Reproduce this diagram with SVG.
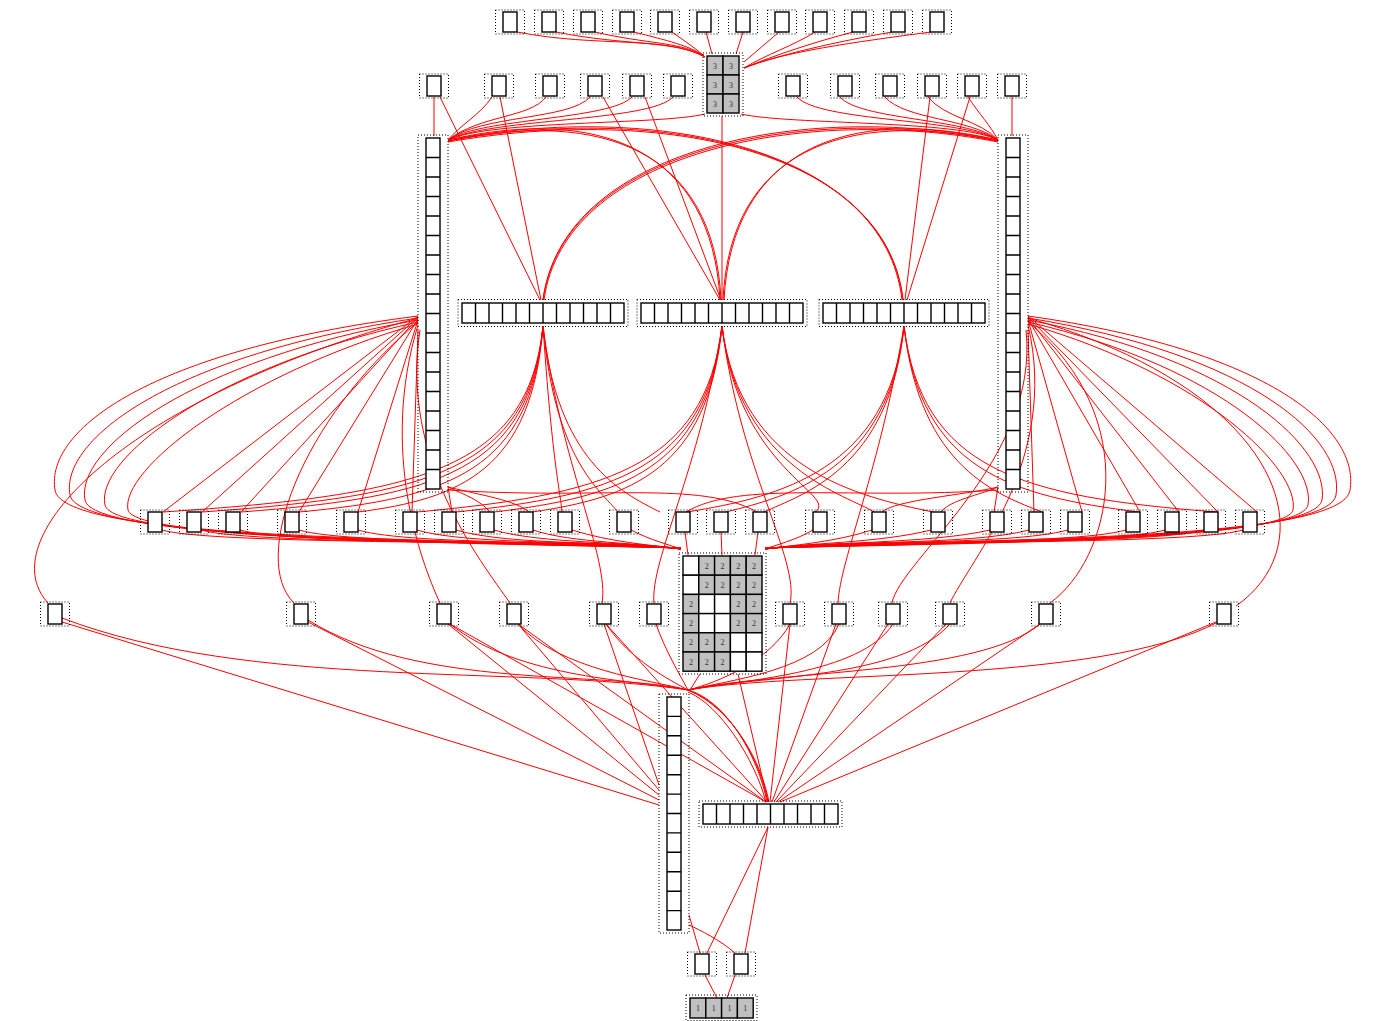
<svg xmlns="http://www.w3.org/2000/svg" xmlns:xlink="http://www.w3.org/1999/xlink" width="1378" height="1021" viewBox="0 0 1378 1021">
<style>
.d{fill:none;stroke:#000;stroke-width:1;stroke-dasharray:1,2}
.b{fill:#fff;stroke:#000;stroke-width:1.4}
.g{fill:#c0c0c0;stroke:#000;stroke-width:1.4}
.w{fill:#fff;stroke:#000;stroke-width:1.4}
.cl{fill:none;stroke:#000;stroke-width:1.4}
.t{font-family:"Liberation Serif",serif;font-size:8px;fill:#333;text-anchor:middle}
.e path{fill:none;stroke:#f00;stroke-width:1}
</style>
<defs>
<g id="sn"><rect class="d" x="-14.5" y="-12" width="29" height="24"/><rect class="b" x="-7" y="-10" width="14" height="20"/></g>
<g id="bar"><rect class="d" x="-4" y="-3.5" width="170" height="27"/><rect class="b" x="0" y="0" width="162" height="20"/><path class="cl" d="M13.5,0v20M27,0v20M40.5,0v20M54,0v20M67.5,0v20M81,0v20M94.5,0v20M108,0v20M121.5,0v20M135,0v20M148.5,0v20"/></g>
<g id="col"><rect class="d" x="-8" y="-3" width="30" height="357"/><rect class="b" x="0" y="0" width="14" height="351"/><path class="cl" d="M0,19.5h14M0,39h14M0,58.5h14M0,78h14M0,97.5h14M0,117h14M0,136.5h14M0,156h14M0,175.5h14M0,195h14M0,214.5h14M0,234h14M0,253.5h14M0,273h14M0,292.5h14M0,312h14M0,331.5h14"/></g>
</defs>
<rect x="0" y="0" width="1378" height="1021" fill="#fff"/>
<g id="edges" class="e">
<!-- top row to grid -->
<path d="M517,32 C600,48 665,35 705,57"/>
<path d="M556,32 C625,46 675,40 705,57"/>
<path d="M595,32 C645,44 685,42 705,57"/>
<path d="M634,32 C665,40 692,46 705,57"/>
<path d="M672,32 C686,42 698,50 705,57"/>
<path d="M706,32 L712,54"/>
<path d="M743,32 L736,54"/>
<path d="M779,32 L744,62"/>
<path d="M815,32 C795,45 765,55 744,68"/>
<path d="M853,32 C815,42 775,55 744,68"/>
<path d="M892,32 C835,42 778,55 744,68"/>
<path d="M931,32 C855,42 782,52 744,68"/>
<!-- row2 -->
<path d="M434,97 L434,136"/>
<path d="M440,97 L540,300"/>
<path d="M500,97 L541,300"/>
<path d="M492,97 C480,115 460,125 448,140"/>
<path d="M546,97 C530,118 480,115 448,140"/>
<path d="M590,97 C570,120 480,115 448,140"/>
<path d="M632,97 C610,120 480,118 448,140"/>
<path d="M673,97 C650,122 490,118 448,140"/>
<path d="M705,114 C660,125 490,120 448,140"/>
<path d="M603,97 L720,300"/>
<path d="M645,97 L721,300"/>
<path d="M722,116 L722,300"/>
<path d="M741,114 C790,125 960,120 998,140"/>
<path d="M797,97 C820,122 960,118 998,140"/>
<path d="M840,97 C860,120 965,118 998,140"/>
<path d="M885,97 C905,120 970,118 998,140"/>
<path d="M928,97 C945,118 980,120 998,140"/>
<path d="M968,97 C980,115 990,125 998,140"/>
<path d="M1012,97 L1012,136"/>
<path d="M930,97 L905,300"/>
<path d="M970,97 L907,300"/>
<!-- arches -->
<path d="M448,140 C600,105 712,150 720,300"/>
<path d="M448,141 C605,108 714,152 721,300"/>
<path d="M448,140 C660,100 885,150 902,300"/>
<path d="M448,142 C665,104 887,152 903,300"/>
<path d="M448,141 C662,102 886,151 903,300"/>
<path d="M998,140 C800,100 562,150 543,300"/>
<path d="M998,142 C805,104 564,152 544,300"/>
<path d="M998,141 C802,102 563,151 543,300"/>
<path d="M998,140 C846,105 732,150 724,300"/>
<path d="M998,141 C842,108 730,152 723,300"/>
<!-- left column fan -->
<path d="M418,316 L163,512"/>
<path d="M418,317 L202,512"/>
<path d="M418,318 L241,512"/>
<path d="M418,319 L299,512"/>
<path d="M418,320 L358,512"/>
<path d="M418,330 L412,512"/>
<path d="M418,316 C150,350 45,430 55,490 C62,540 420,538 681,548"/>
<path d="M418,318 C170,355 60,440 70,495 C78,540 430,540 681,548"/>
<path d="M418,320 C190,360 75,450 85,500 C92,540 440,541 681,548"/>
<path d="M418,322 C210,368 95,460 105,505 C112,540 450,542 681,548"/>
<path d="M418,324 C240,375 120,470 128,510 C135,540 460,543 681,548"/>
<path d="M418,318 C120,400 -10,540 48,603"/>
<path d="M418,322 C300,420 250,560 294,603"/>
<path d="M418,325 C380,450 420,560 440,603"/>
<path d="M420,330 C400,460 480,560 510,603"/>
<!-- right column fan -->
<path d="M1028,330 L1034,512"/>
<path d="M1028,320 L1082,512"/>
<path d="M1028,319 L1140,512"/>
<path d="M1028,318 L1179,512"/>
<path d="M1028,317 L1218,512"/>
<path d="M1028,316 L1257,512"/>
<path d="M1028,316 C1270,350 1360,430 1350,490 C1343,540 1020,538 765,548"/>
<path d="M1028,318 C1255,355 1345,440 1336,495 C1329,540 1012,540 765,548"/>
<path d="M1028,320 C1240,360 1330,450 1322,500 C1315,540 1004,541 765,548"/>
<path d="M1028,322 C1225,368 1316,460 1308,505 C1301,540 996,542 765,548"/>
<path d="M1028,324 C1205,375 1300,470 1293,510 C1287,540 986,543 765,548"/>
<path d="M1028,318 C1280,390 1330,540 1236,606"/>
<path d="M1028,322 C1146,420 1110,560 1050,603"/>
<path d="M1026,330 C1040,460 900,560 892,603"/>
<path d="M1028,325 C1060,460 970,560 950,603"/>
<!-- bars down -->
<path d="M543,326 C528,470 420,495 163,512"/>
<path d="M543,326 C529,470 430,496 202,512"/>
<path d="M543,326 C530,470 440,497 241,512"/>
<path d="M543,326 C531,470 450,498 299,512"/>
<path d="M543,326 C532,470 460,499 358,512"/>
<path d="M543,326 C552,460 560,490 562,512"/>
<path d="M543,326 C555,460 600,490 618,512"/>
<path d="M543,326 C557,460 620,492 660,512"/>
<path d="M543,326 C560,460 610,560 602,603"/>
<path d="M722,326 C705,470 600,495 417,512"/>
<path d="M722,326 C706,470 610,496 456,512"/>
<path d="M722,326 C707,470 620,497 494,512"/>
<path d="M722,326 C708,470 630,498 532,512"/>
<path d="M722,326 C738,470 840,495 815,512"/>
<path d="M722,326 C739,470 850,496 874,512"/>
<path d="M722,326 C740,470 860,497 933,512"/>
<path d="M722,326 C700,470 650,560 654,603"/>
<path d="M722,326 C740,470 800,560 790,603"/>
<path d="M904,326 C890,470 800,495 764,512"/>
<path d="M904,326 C889,470 790,496 726,512"/>
<path d="M904,326 C888,470 780,497 687,512"/>
<path d="M904,326 C920,470 1000,495 1042,512"/>
<path d="M904,326 C921,470 1010,496 1139,512"/>
<path d="M904,326 C922,470 1020,497 1217,512"/>
<path d="M904,326 C880,470 840,560 838,603"/>
<!-- column bottoms -->
<path d="M448,487 L452,512"/>
<path d="M448,487 C465,495 480,500 490,512"/>
<path d="M448,487 C480,495 515,500 529,512"/>
<path d="M448,490 C600,500 700,480 757,512"/>
<path d="M998,487 L994,512"/>
<path d="M998,487 C980,495 950,500 941,512"/>
<path d="M998,487 C965,495 895,500 882,512"/>
<path d="M998,490 C850,500 740,480 686,512"/>
<!-- row3 to grid -->
<path d="M162,530 C215,546 620,540 681,549"/>
<path d="M201,530 C254,546 620,540 681,549"/>
<path d="M240,530 C293,546 620,540 681,549"/>
<path d="M299,530 C352,546 620,540 681,549"/>
<path d="M358,530 C411,546 620,540 681,549"/>
<path d="M417,530 C470,546 620,540 681,549"/>
<path d="M456,530 C509,546 630,541 681,549"/>
<path d="M494,530 C540,544 640,542 681,549"/>
<path d="M533,530 C570,543 645,543 681,549"/>
<path d="M572,530 C610,542 650,545 681,549"/>
<path d="M631,530 C650,540 670,545 681,549"/>
<path d="M685,532 L688,555"/>
<path d="M721,532 L722,555"/>
<path d="M758,532 L755,555"/>
<path d="M813,530 C796,540 776,545 765,549"/>
<path d="M872,530 C835,542 795,545 765,549"/>
<path d="M931,530 C880,543 805,543 765,549"/>
<path d="M990,530 C930,544 815,542 765,549"/>
<path d="M1029,530 C970,546 826,540 765,549"/>
<path d="M1068,530 C1010,546 826,540 765,549"/>
<path d="M1126,530 C1070,546 826,540 765,549"/>
<path d="M1165,530 C1110,546 826,540 765,549"/>
<path d="M1204,530 C1150,546 826,540 765,549"/>
<path d="M1243,530 C1190,546 826,540 765,549"/>
<!-- row4 -->
<path d="M62,622 L659,805"/>
<path d="M308,622 L659,800"/>
<path d="M448,624 L659,795"/>
<path d="M518,624 L659,790"/>
<path d="M604,624 L659,785"/>
<path d="M62,618 C250,690 520,665 688,690"/>
<path d="M308,620 C420,690 600,670 688,690"/>
<path d="M450,624 C520,680 640,680 688,690"/>
<path d="M518,624 C560,670 650,680 688,690"/>
<path d="M606,624 C630,660 670,680 688,690"/>
<path d="M656,624 C665,650 680,675 688,690"/>
<path d="M790,624 C770,660 720,682 688,690"/>
<path d="M839,624 C820,670 730,680 688,690"/>
<path d="M893,624 C860,675 740,680 688,690"/>
<path d="M950,624 C900,680 760,675 688,690"/>
<path d="M1040,624 C980,675 780,670 688,690"/>
<path d="M1218,622 C1100,685 800,670 688,690"/>
<path d="M450,624 L766,802"/>
<path d="M518,624 L766,802"/>
<path d="M606,624 L767,802"/>
<path d="M790,624 L770,802"/>
<path d="M836,624 L772,802"/>
<path d="M888,624 L774,802"/>
<path d="M946,624 L776,802"/>
<path d="M1040,624 L778,802"/>
<path d="M1216,622 L780,802"/>
<path d="M688,690 C730,705 760,760 768,802"/>
<path d="M688,690 C735,710 762,765 769,802"/>
<path d="M688,690 C725,700 758,755 767,802"/>
<path d="M688,692 C720,705 755,760 766,802"/>
<path d="M738,674 L768,802"/>
<path d="M700,674 L690,690"/>
<!-- bottom -->
<path d="M689,915 L700,953"/>
<path d="M689,925 C700,930 720,940 735,953"/>
<path d="M768,827 L707,953"/>
<path d="M768,827 L745,953"/>
<path d="M705,975 L717,998"/>
<path d="M735,975 L727,998"/>
</g>
<!-- row 1 -->
<g id="r1n1"><use xlink:href="#sn" x="510" y="22"/></g>
<g id="r1n2"><use xlink:href="#sn" x="549" y="22"/></g>
<g id="r1n3"><use xlink:href="#sn" x="588" y="22"/></g>
<g id="r1n4"><use xlink:href="#sn" x="627" y="22"/></g>
<g id="r1n5"><use xlink:href="#sn" x="665" y="22"/></g>
<g id="r1n6"><use xlink:href="#sn" x="704" y="22"/></g>
<g id="r1n7"><use xlink:href="#sn" x="743" y="22"/></g>
<g id="r1n8"><use xlink:href="#sn" x="782" y="22"/></g>
<g id="r1n9"><use xlink:href="#sn" x="820" y="22"/></g>
<g id="r1n10"><use xlink:href="#sn" x="859" y="22"/></g>
<g id="r1n11"><use xlink:href="#sn" x="898" y="22"/></g>
<g id="r1n12"><use xlink:href="#sn" x="937" y="22"/></g>
<!-- grid 3 -->
<g id="grid3">
<rect class="d" x="703" y="53" width="40" height="63"/>
<rect class="g" x="707" y="56" width="16" height="19"/><rect class="g" x="723" y="56" width="16" height="19"/>
<rect class="g" x="707" y="75" width="16" height="19"/><rect class="g" x="723" y="75" width="16" height="19"/>
<rect class="g" x="707" y="94" width="16" height="19"/><rect class="g" x="723" y="94" width="16" height="19"/>
<text class="t" x="715" y="68.5">3</text><text class="t" x="731" y="68.5">3</text>
<text class="t" x="715" y="87.5">3</text><text class="t" x="731" y="87.5">3</text>
<text class="t" x="715" y="106.5">3</text><text class="t" x="731" y="106.5">3</text>
</g>
<!-- row 2 -->
<g id="r2n1"><use xlink:href="#sn" x="434" y="86"/></g>
<g id="r2n2"><use xlink:href="#sn" x="499" y="86"/></g>
<g id="r2n3"><use xlink:href="#sn" x="550" y="86"/></g>
<g id="r2n4"><use xlink:href="#sn" x="595" y="86"/></g>
<g id="r2n5"><use xlink:href="#sn" x="637" y="86"/></g>
<g id="r2n6"><use xlink:href="#sn" x="678" y="86"/></g>
<g id="r2n7"><use xlink:href="#sn" x="793" y="86"/></g>
<g id="r2n8"><use xlink:href="#sn" x="845" y="86"/></g>
<g id="r2n9"><use xlink:href="#sn" x="890" y="86"/></g>
<g id="r2n10"><use xlink:href="#sn" x="932" y="86"/></g>
<g id="r2n11"><use xlink:href="#sn" x="972" y="86"/></g>
<g id="r2n12"><use xlink:href="#sn" x="1012" y="86"/></g>
<!-- columns -->
<g id="colL"><use xlink:href="#col" x="426" y="138"/></g>
<g id="colR"><use xlink:href="#col" x="1006" y="138"/></g>
<!-- bars -->
<g id="bar1"><use xlink:href="#bar" x="462" y="303"/></g>
<g id="bar2"><use xlink:href="#bar" x="641" y="303"/></g>
<g id="bar3"><use xlink:href="#bar" x="823" y="303"/></g>
<!-- row 3 -->
<g id="r3n1"><use xlink:href="#sn" x="155" y="522"/></g>
<g id="r3n2"><use xlink:href="#sn" x="194" y="522"/></g>
<g id="r3n3"><use xlink:href="#sn" x="233" y="522"/></g>
<g id="r3n4"><use xlink:href="#sn" x="292" y="522"/></g>
<g id="r3n5"><use xlink:href="#sn" x="351" y="522"/></g>
<g id="r3n6"><use xlink:href="#sn" x="410" y="522"/></g>
<g id="r3n7"><use xlink:href="#sn" x="449" y="522"/></g>
<g id="r3n8"><use xlink:href="#sn" x="487" y="522"/></g>
<g id="r3n9"><use xlink:href="#sn" x="526" y="522"/></g>
<g id="r3n10"><use xlink:href="#sn" x="565" y="522"/></g>
<g id="r3n11"><use xlink:href="#sn" x="624" y="522"/></g>
<g id="r3n12"><use xlink:href="#sn" x="683" y="522"/></g>
<g id="r3n13"><use xlink:href="#sn" x="721" y="522"/></g>
<g id="r3n14"><use xlink:href="#sn" x="760" y="522"/></g>
<g id="r3n15"><use xlink:href="#sn" x="820" y="522"/></g>
<g id="r3n16"><use xlink:href="#sn" x="879" y="522"/></g>
<g id="r3n17"><use xlink:href="#sn" x="938" y="522"/></g>
<g id="r3n18"><use xlink:href="#sn" x="997" y="522"/></g>
<g id="r3n19"><use xlink:href="#sn" x="1036" y="522"/></g>
<g id="r3n20"><use xlink:href="#sn" x="1075" y="522"/></g>
<g id="r3n21"><use xlink:href="#sn" x="1133" y="522"/></g>
<g id="r3n22"><use xlink:href="#sn" x="1172" y="522"/></g>
<g id="r3n23"><use xlink:href="#sn" x="1211" y="522"/></g>
<g id="r3n24"><use xlink:href="#sn" x="1250" y="522"/></g>
<!-- grid 5x6 -->
<g id="grid2">
<rect class="d" x="679" y="553" width="87" height="121"/>
<rect class="w" x="683" y="556" width="15.8" height="19.2"/><rect class="g" x="698.8" y="556" width="15.8" height="19.2"/><rect class="g" x="714.6" y="556" width="15.8" height="19.2"/><rect class="g" x="730.4" y="556" width="15.8" height="19.2"/><rect class="g" x="746.2" y="556" width="15.8" height="19.2"/>
<rect class="w" x="683" y="575.2" width="15.8" height="19.2"/><rect class="g" x="698.8" y="575.2" width="15.8" height="19.2"/><rect class="g" x="714.6" y="575.2" width="15.8" height="19.2"/><rect class="g" x="730.4" y="575.2" width="15.8" height="19.2"/><rect class="g" x="746.2" y="575.2" width="15.8" height="19.2"/>
<rect class="g" x="683" y="594.4" width="15.8" height="19.2"/><rect class="w" x="698.8" y="594.4" width="15.8" height="19.2"/><rect class="w" x="714.6" y="594.4" width="15.8" height="19.2"/><rect class="g" x="730.4" y="594.4" width="15.8" height="19.2"/><rect class="g" x="746.2" y="594.4" width="15.8" height="19.2"/>
<rect class="g" x="683" y="613.6" width="15.8" height="19.2"/><rect class="w" x="698.8" y="613.6" width="15.8" height="19.2"/><rect class="w" x="714.6" y="613.6" width="15.8" height="19.2"/><rect class="g" x="730.4" y="613.6" width="15.8" height="19.2"/><rect class="g" x="746.2" y="613.6" width="15.8" height="19.2"/>
<rect class="g" x="683" y="632.8" width="15.8" height="19.2"/><rect class="g" x="698.8" y="632.8" width="15.8" height="19.2"/><rect class="g" x="714.6" y="632.8" width="15.8" height="19.2"/><rect class="w" x="730.4" y="632.8" width="15.8" height="19.2"/><rect class="w" x="746.2" y="632.8" width="15.8" height="19.2"/>
<rect class="g" x="683" y="652" width="15.8" height="19.2"/><rect class="g" x="698.8" y="652" width="15.8" height="19.2"/><rect class="g" x="714.6" y="652" width="15.8" height="19.2"/><rect class="w" x="730.4" y="652" width="15.8" height="19.2"/><rect class="w" x="746.2" y="652" width="15.8" height="19.2"/>
<text class="t" x="706.7" y="568.5">2</text><text class="t" x="722.5" y="568.5">2</text><text class="t" x="738.3" y="568.5">2</text><text class="t" x="754.1" y="568.5">2</text>
<text class="t" x="706.7" y="587.7">2</text><text class="t" x="722.5" y="587.7">2</text><text class="t" x="738.3" y="587.7">2</text><text class="t" x="754.1" y="587.7">2</text>
<text class="t" x="690.9" y="606.9">2</text><text class="t" x="738.3" y="606.9">2</text><text class="t" x="754.1" y="606.9">2</text>
<text class="t" x="690.9" y="626.1">2</text><text class="t" x="738.3" y="626.1">2</text><text class="t" x="754.1" y="626.1">2</text>
<text class="t" x="690.9" y="645.3">2</text><text class="t" x="706.7" y="645.3">2</text><text class="t" x="722.5" y="645.3">2</text>
<text class="t" x="690.9" y="664.5">2</text><text class="t" x="706.7" y="664.5">2</text><text class="t" x="722.5" y="664.5">2</text>
</g>
<!-- row 4 -->
<g id="r4n1"><use xlink:href="#sn" x="55" y="614"/></g>
<g id="r4n2"><use xlink:href="#sn" x="301" y="614"/></g>
<g id="r4n3"><use xlink:href="#sn" x="444" y="614"/></g>
<g id="r4n4"><use xlink:href="#sn" x="514" y="614"/></g>
<g id="r4n5"><use xlink:href="#sn" x="604" y="614"/></g>
<g id="r4n6"><use xlink:href="#sn" x="654" y="614"/></g>
<g id="r4n7"><use xlink:href="#sn" x="790" y="614"/></g>
<g id="r4n8"><use xlink:href="#sn" x="839" y="614"/></g>
<g id="r4n9"><use xlink:href="#sn" x="893" y="614"/></g>
<g id="r4n10"><use xlink:href="#sn" x="950" y="614"/></g>
<g id="r4n11"><use xlink:href="#sn" x="1046" y="614"/></g>
<g id="r4n12"><use xlink:href="#sn" x="1224" y="614"/></g>
<!-- bottom column -->
<g id="colB">
<rect class="d" x="659" y="694" width="30" height="239"/>
<rect class="b" x="667" y="697" width="14" height="233"/>
<path class="cl" d="M667,716.4h14M667,735.8h14M667,755.3h14M667,774.7h14M667,794.1h14M667,813.5h14M667,832.9h14M667,852.3h14M667,871.8h14M667,891.2h14M667,910.6h14"/>
</g>
<!-- bottom bar -->
<g id="barB">
<rect class="d" x="699" y="801" width="143" height="26"/>
<rect class="b" x="703" y="804" width="135" height="20"/>
<path class="cl" d="M716.5,804v20M730,804v20M743.5,804v20M757,804v20M770.5,804v20M784,804v20M797.5,804v20M811,804v20M824.5,804v20"/>
</g>
<!-- bottom nodes -->
<g id="b1"><use xlink:href="#sn" x="702" y="964"/></g>
<g id="b2"><use xlink:href="#sn" x="741" y="964"/></g>
<g id="grid1">
<rect class="d" x="686" y="995" width="71" height="25.5"/>
<rect class="g" x="690" y="998" width="15.8" height="20"/><rect class="g" x="705.8" y="998" width="15.8" height="20"/><rect class="g" x="721.6" y="998" width="15.8" height="20"/><rect class="g" x="737.4" y="998" width="15.8" height="20"/>
<text class="t" x="697.9" y="1011">1</text><text class="t" x="713.7" y="1011">1</text><text class="t" x="729.5" y="1011">1</text><text class="t" x="745.3" y="1011">1</text>
</g>
</svg>
